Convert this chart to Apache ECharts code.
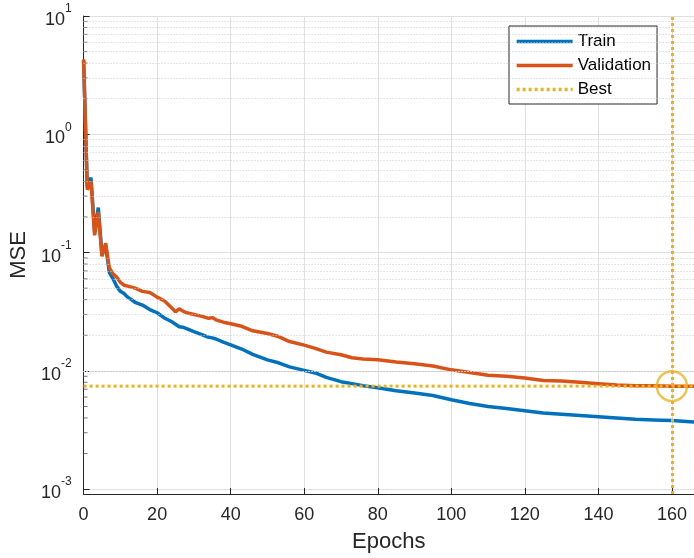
<!DOCTYPE html>
<html>
<head>
<meta charset="utf-8">
<script src="https://cdn.jsdelivr.net/npm/echarts@6/dist/echarts.min.js"></script>
<style>
html,body{margin:0;padding:0;background:#fff;}
#chart{width:694px;height:558px;}
</style>
</head>
<body>
<div id="chart"></div>
<script>
// ---- data ----
const epochs   = [0,1,2,3,4,5,6,7,8,9,10,11,12,14,16,18,20,22,24,25,26,27,28,30,32,34,35,36,38,40,43,46,50,53,56,60,63,66,70,73,76,80,85,90,95,100,105,110,115,120,125,130,135,140,145,150,155,160,166];
const trainMSE = [4.2,0.36,0.43,0.15,0.24,0.095,0.115,0.068,0.06,0.052,0.047,0.045,0.042,0.038,0.036,0.033,0.031,0.028,0.026,0.0248,0.0236,0.0234,0.0228,0.0215,0.0203,0.0192,0.019,0.0186,0.0175,0.0166,0.0153,0.0138,0.0124,0.0117,0.0108,0.0101,0.0096,0.0088,0.0081,0.0078,0.0075,0.0072,0.0068,0.0065,0.0062,0.0057,0.0053,0.005,0.0048,0.0046,0.0044,0.0043,0.0042,0.0041,0.004,0.0039,0.00385,0.0038,0.0037];
const valMSE   = [4.3,0.34,0.4,0.14,0.22,0.093,0.12,0.074,0.066,0.062,0.056,0.053,0.052,0.05,0.047,0.046,0.042,0.039,0.034,0.0315,0.0335,0.032,0.031,0.03,0.029,0.0278,0.0282,0.027,0.0258,0.025,0.0238,0.0218,0.0207,0.0195,0.0177,0.0165,0.0155,0.0144,0.0137,0.0129,0.0126,0.0124,0.0119,0.0115,0.011,0.0102,0.0097,0.0092,0.009,0.0087,0.0083,0.0082,0.008,0.0078,0.0076,0.0075,0.0075,0.00743,0.0074];
const bestEpoch = 160;
const bestMSE = 0.00743;
const xMin = 0, xMax = 166, xStep = 20;
const yMin = 0.00091, yMax = 10;
const decades = [0.001, 0.01, 0.1, 1];
const minorMultipliers = [2,3,4,5,6,7,8,9];
const legendNames = ['Train','Validation','Best'];

// ---- build ----
const FONT = 'Liberation Sans, Arial, Helvetica, sans-serif';
const TXT = '#262626';
const trainData = epochs.map((e,i)=>[e, trainMSE[i]]);
const valData = epochs.map((e,i)=>[e, valMSE[i]]);
const minorVals = [];
decades.forEach(d => minorMultipliers.forEach(m => { const v = d*m; if (v < yMax) minorVals.push(v); }));

const chart = echarts.init(document.getElementById('chart'), null, {renderer:'canvas'});
const option = {
  animation: false,
  backgroundColor: '#fff',
  textStyle: {fontFamily: FONT},
  grid: {left: 82.5, top: 16, width: 616, height: 481, containLabel: false},
  legend: {
    data: legendNames,
    orient: 'vertical',
    left: 509, top: 26,
    padding: [7, 6, 6, 6],
    itemWidth: 56, itemHeight: 2, itemGap: 7,
    itemStyle: {opacity: 0},
    lineStyle: {width: 3.3},
    backgroundColor: '#fff',
    borderColor: '#262626', borderWidth: 1,
    textStyle: {fontFamily: FONT, fontSize: 17, color: '#000', lineHeight: 14, padding: [0,0,0,0]}
  },
  xAxis: {
    type: 'value', min: xMin, max: xMax, interval: xStep,
    name: 'Epochs', nameLocation: 'middle', nameGap: 37,
    nameTextStyle: {fontFamily: FONT, fontSize: 22, color: TXT},
    axisLine: {show: true, lineStyle: {color: TXT, width: 1}},
    axisTick: {show: true, inside: true, length: 6, lineStyle: {color: TXT}},
    axisLabel: {fontFamily: FONT, fontSize: 18, color: TXT, margin: 12, showMaxLabel: false},
    splitLine: {show: true, lineStyle: {color: '#e0e0e0', width: 1}}
  },
  yAxis: {
    type: 'log', logBase: 10, min: yMin, max: yMax,
    name: 'MSE', nameLocation: 'middle', nameGap: 46, nameRotate: 90,
    nameTextStyle: {fontFamily: FONT, fontSize: 22, color: TXT},
    axisLine: {show: true, lineStyle: {color: TXT, width: 1}},
    axisTick: {show: true, inside: true, length: 6, lineStyle: {color: TXT}},
    axisLabel: {
      showMinLabel: false,
      margin: 12,
      formatter: function (v) {
        const e = Math.log10(v); const r = Math.round(e);
        if (Math.abs(e - r) > 1e-6) return '';
        return '{b|10}{s|' + r + '}';
      },
      rich: {
        b: {fontFamily: FONT, fontSize: 18, color: TXT, verticalAlign: 'bottom', lineHeight: 26},
        s: {fontFamily: FONT, fontSize: 12, color: TXT, verticalAlign: 'top', lineHeight: 26}
      }
    },
    splitLine: {show: true, lineStyle: {color: '#e0e0e0', width: 1}}
  },
  series: [
    {
      name: 'minorGrid', type: 'scatter', silent: true, z: 1,
      symbol: 'rect', symbolSize: [4, 1], symbolOffset: [2, 0],
      itemStyle: {color: '#555'},
      data: minorVals.map(v => [xMin, v]),
      markLine: {
        silent: true, symbol: 'none', label: {show: false},
        lineStyle: {color: '#cccccc', type: [1, 2], width: 1},
        data: minorVals.map(v => ({yAxis: v}))
      }
    },
    {
      name: 'Train', type: 'line', data: trainData, showSymbol: false, symbol: 'none',
      lineStyle: {color: '#0072BD', width: 3.5}, itemStyle: {color: '#0072BD'}, z: 3
    },
    {
      name: 'Validation', type: 'line', data: valData, showSymbol: false, symbol: 'none',
      lineStyle: {color: '#D95319', width: 3.5}, itemStyle: {color: '#D95319'}, z: 4
    },
    {
      name: 'Best', type: 'line', data: [[xMin, bestMSE], [xMax, bestMSE]], showSymbol: false, symbol: 'none',
      lineStyle: {color: '#EDB120', width: 3, type: [3, 3]}, itemStyle: {color: '#EDB120'}, z: 5,
      markLine: {
        silent: true, symbol: 'none', label: {show: false},
        lineStyle: {color: '#EDB120', width: 3, type: [3, 3]},
        data: [{xAxis: bestEpoch}]
      }
    },
    {
      name: 'bestPoint', type: 'scatter', silent: true, z: 6,
      symbol: 'circle', symbolSize: 30,
      itemStyle: {color: 'rgba(0,0,0,0)', borderColor: '#EDB120', borderWidth: 2.5},
      data: [[bestEpoch, bestMSE]]
    }
  ]
};
chart.setOption(option);
</script>
</body>
</html>
